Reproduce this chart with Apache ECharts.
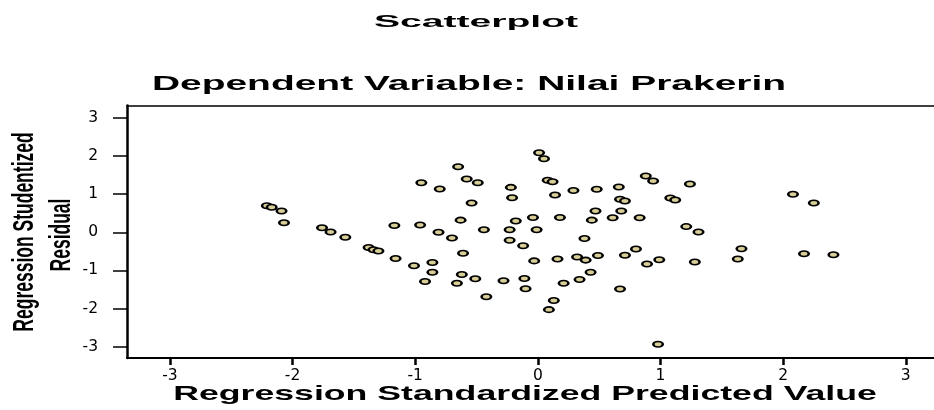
<!DOCTYPE html>
<html>
<head>
<meta charset="utf-8">
<script src="https://cdn.jsdelivr.net/npm/echarts@6/dist/echarts.min.js"></script>
<style>
html,body{margin:0;padding:0;background:#fff;}
#chart{width:934px;height:410px;}
</style>
</head>
<body>
<div id="chart"></div>
<script>
// Titles
const mainTitle = "Scatterplot";
const subTitle = "Dependent Variable: Nilai Prakerin";
const xTitle = "Regression Standardized Predicted Value";
const yTitleLines = ["Regression Studentized", "Residual"];

// Tick labels
const xTicks = [-3, -2, -1, 0, 1, 2, 3];
const yTicks = [-3, -2, -1, 0, 1, 2, 3];

// Regression Standardized Predicted Value (x)
const predicted = [
  -2.21, -2.17, -2.09, -2.07, -1.76, -1.69, -1.57, -1.38, -1.34, -1.30, -1.17, -1.16,
  0.01, 0.05, -0.65, -0.95, -0.80, -0.58, -0.49, -0.22, -0.21, -0.54,
  0.08, 0.12, 0.14, 0.29, 0.48, 0.66, 0.67, 0.71, 0.47, 0.68, 0.88, 0.94,
  -0.63, -0.18, -0.04, 0.18, 0.44, 0.61, 0.83,
  -0.96, -0.81, -0.70, -0.44, -0.23, -0.01, -0.23, -0.12, 0.38,
  -1.01, -0.86, -0.86, -0.92, -0.61, -0.62, -0.66, -0.51, -0.42, -0.28, -0.11, -0.10,
  -0.03, 0.16, 0.32, 0.39, 0.49, 0.43, 0.34, 0.21, 0.13, 0.09, 0.67, 0.71, 0.80, 0.89,
  0.99, 1.24, 1.08, 1.12, 1.21, 1.31, 1.28, 1.66, 1.63, 2.08, 2.25, 2.17, 2.41, 0.98
];

// Regression Studentized Residual (y)
const residual = [
  0.70, 0.66, 0.56, 0.25, 0.12, 0.01, -0.13, -0.40, -0.46, -0.49, 0.18, -0.69,
  2.09, 1.93, 1.72, 1.30, 1.14, 1.40, 1.30, 1.18, 0.91, 0.77,
  1.37, 1.33, 0.98, 1.10, 1.13, 1.19, 0.87, 0.82, 0.56, 0.56, 1.48, 1.35,
  0.32, 0.30, 0.39, 0.39, 0.32, 0.38, 0.38,
  0.19, 0.00, -0.15, 0.07, 0.07, 0.07, -0.21, -0.35, -0.16,
  -0.88, -0.79, -1.05, -1.29, -0.55, -1.11, -1.34, -1.22, -1.69, -1.27, -1.21, -1.48,
  -0.75, -0.70, -0.65, -0.73, -0.61, -1.05, -1.24, -1.34, -1.79, -2.03, -1.49, -0.60, -0.44, -0.83,
  -0.72, 1.27, 0.90, 0.85, 0.15, 0.01, -0.78, -0.43, -0.70, 1.00, 0.77, -0.56, -0.59, -2.94
];

const points = predicted.map((x, i) => [x, residual[i]]);

const chart = echarts.init(document.getElementById('chart'), null, {renderer: 'canvas'});
function bf(s){ return 'bold ' + s + 'px "Liberation Sans", Arial, sans-serif'; }

chart.setOption({
  backgroundColor: '#ffffff',
  animation: false,
  grid: {left: 127, right: 0, top: 105.5, bottom: 52, show: false},
  xAxis: [{
    type: 'value',
    min: -3.35, max: 3.23,
    axisLine: {show: true, onZero: false, lineStyle: {color: '#000', width: 2}},
    axisTick: {show: true, length: 7, lineStyle: {color: '#000', width: 2.5}, customValues: xTicks},
    axisLabel: {show: true, margin: 10, color: '#000', fontFamily: '"DejaVu Sans", sans-serif', fontSize: 15.5,
      customValues: xTicks, formatter: v => String(v)},
    splitLine: {show: false}
  }, {
    type: 'value', position: 'top',
    min: -3.35, max: 3.23,
    axisLine: {show: true, onZero: false, lineStyle: {color: '#000', width: 1.5}},
    axisTick: {show: false}, axisLabel: {show: false}, splitLine: {show: false}
  }],
  yAxis: {
    type: 'value',
    min: -3.3, max: 3.33,
    axisLine: {show: true, onZero: false, lineStyle: {color: '#000', width: 2.5}},
    axisTick: {show: true, length: 14, lineStyle: {color: '#000', width: 1.5}, customValues: yTicks},
    axisLabel: {show: true, margin: 29, color: '#000', fontFamily: '"DejaVu Sans", sans-serif', fontSize: 15.5,
      customValues: yTicks, formatter: v => String(v)},
    splitLine: {show: false}
  },
  series: [{
    type: 'scatter',
    data: points,
    symbol: 'circle',
    symbolSize: [9.5, 5.5],
    itemStyle: {color: '#d8ce98', borderColor: '#000', borderWidth: 2, opacity: 1},
    emphasis: {disabled: true}
  }],
  graphic: [
    {type: 'text', x: 476, y: 22, scaleX: 2.3, silent: true,
     style: {text: mainTitle, font: bf(17), fill: '#000', textAlign: 'center', textVerticalAlign: 'middle', align: 'center', verticalAlign: 'middle'}},
    {type: 'text', x: 469, y: 84, scaleX: 1.9, silent: true,
     style: {text: subTitle, font: bf(20.5), fill: '#000', textAlign: 'center', textVerticalAlign: 'middle', align: 'center', verticalAlign: 'middle'}},
    {type: 'text', x: 525, y: 394, scaleX: 1.74, silent: true,
     style: {text: xTitle, font: bf(20.5), fill: '#000', textAlign: 'center', textVerticalAlign: 'middle', align: 'center', verticalAlign: 'middle'}},
    {type: 'text', x: 25, y: 232, rotation: Math.PI / 2, scaleY: 1.65, silent: true,
     style: {text: yTitleLines[0], font: bf(17.5), fill: '#000', textAlign: 'center', textVerticalAlign: 'middle', align: 'center', verticalAlign: 'middle'}},
    {type: 'text', x: 62, y: 235, rotation: Math.PI / 2, scaleY: 1.65, silent: true,
     style: {text: yTitleLines[1], font: bf(17.5), fill: '#000', textAlign: 'center', textVerticalAlign: 'middle', align: 'center', verticalAlign: 'middle'}}
  ]
});
</script>
</body>
</html>
